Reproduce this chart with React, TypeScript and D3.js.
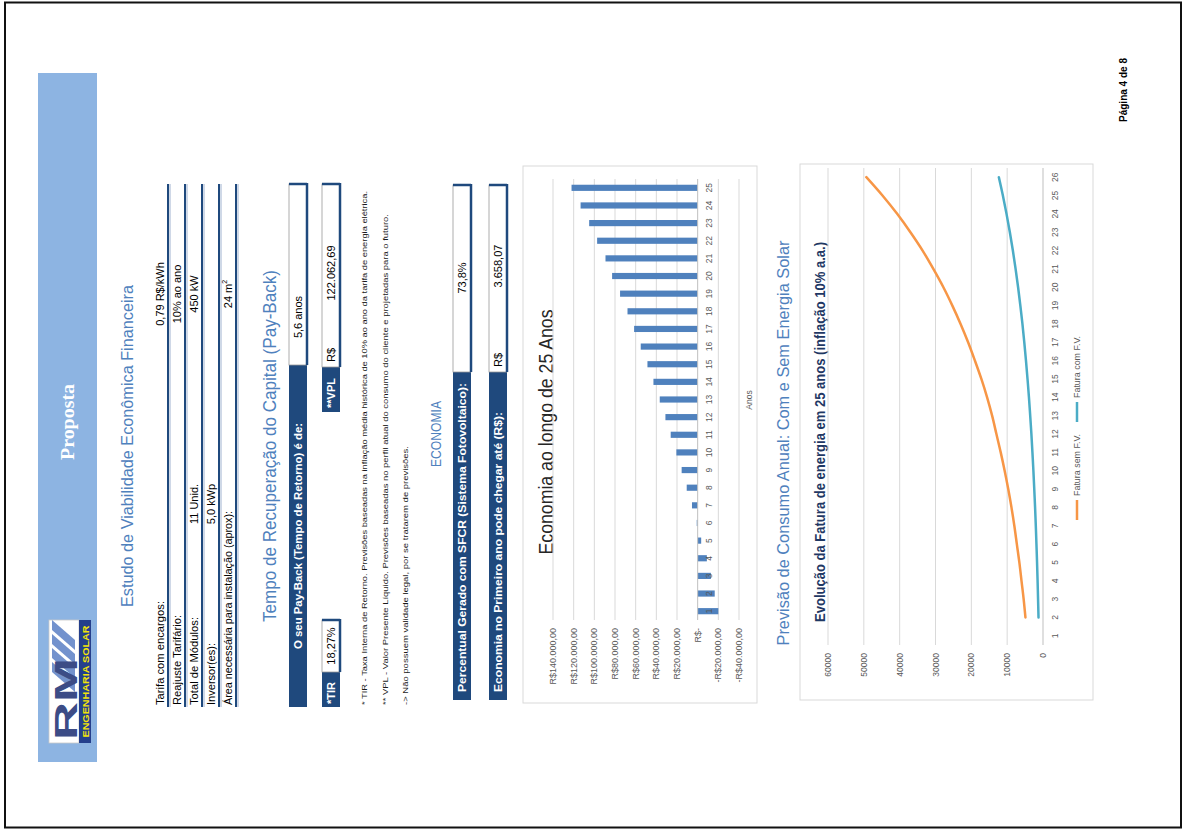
import React from 'react';
import * as d3 from 'd3';

const W = 1183;
const H = 832;

const SANS = "'Liberation Sans Narrow', 'Liberation Sans', Arial, sans-serif";
const SERIF = "'Liberation Serif', 'DejaVu Serif', serif";

const NAVY = '#1F497D';
const TITLE_BLUE = '#4F81BD';
const BAND = '#8DB4E2';
const AXIS_TXT = '#595959';
const GRID = '#d9d9d9';

// Dados do estudo financeiro
const tabelaRotulos = [
  'Tarifa com encargos:',
  'Reajuste Tarifário:',
  'Total de Módulos:',
  'Inversor(es):',
  'Área necessária para instalação (aprox):',
];
const tabelaRotuloLen = [104, 90, 88, 62, 194];
const tabelaQtd = ['', '', '11 Unid.', '5,0 kWp', ''];
const tabelaValor = ['0,79 R$/kWh', '10% ao ano', '450 kW', '', '24 m'];

const notas = [
  '* TIR - Taxa Interna de Retorno. Previsões baseadas na inflação média histórica de 10% ao ano da tarifa de energia elétrica.',
  '** VPL - Valor Presente Líquido. Previsões baseadas no perfil atual do consumo do cliente e projetadas para o futuro.',
  '-> Não possuem validade legal, por se tratarem de previsões.',
];
const notasLen = [514, 491, 259];

// Economia acumulada ao longo de 25 anos (R$)
const anos = [1, 2, 3, 4, 5, 6, 7, 8, 9, 10, 11, 12, 13, 14, 15, 16, 17, 18, 19, 20, 21, 22, 23, 24, 25];
const economiaAcumulada = [
  -20000, -16500, -12800, -8900, -3400, 900, 5500, 10600, 15500, 20600,
  26100, 31200, 36700, 42800, 48600, 55100, 61500, 67900, 75100, 82800,
  89200, 97300, 105000, 113300, 122062.69,
];
const economiaTicks = [-40000, -20000, 0, 20000, 40000, 60000, 80000, 100000, 120000, 140000];

// Fatura anual com e sem o sistema fotovoltaico
const faturaAnos = [1, 2, 3, 4, 5, 6, 7, 8, 9, 10, 11, 12, 13, 14, 15, 16, 17, 18, 19, 20, 21, 22, 23, 24, 25, 26];
const faturaSemFV: (number | null)[] = [
  null, 4900, 5400, 6000, 6600, 7300, 8000, 8800, 9700, 10700, 11800, 13000, 14200,
  15600, 17200, 19000, 20900, 23000, 25300, 27800, 30600, 33600, 37000, 40700, 44800, 49300,
];
const faturaComFV: (number | null)[] = [
  null, 1250, 1380, 1510, 1660, 1830, 2010, 2210, 2440, 2680, 2950, 3240, 3570,
  3920, 4320, 4750, 5220, 5740, 6320, 6950, 7650, 8410, 9250, 10180, 11200, 12320,
];
const faturaTicks = [0, 10000, 20000, 30000, 40000, 50000, 60000];

const locale = d3.formatLocale({ decimal: ',', thousands: '.', grouping: [3], currency: ['R$', ''] });
const num2 = locale.format(',.2f');
const brl = (v: number) => (v === 0 ? 'R$-' : (v < 0 ? '-' : '') + 'R$' + num2(Math.abs(v)));

type TP = {
  x: number; y: number; children: React.ReactNode; size?: number; len?: number;
  anchor?: 'start' | 'middle' | 'end'; fill?: string; weight?: string | number; family?: string;
};
const T = ({ x, y, children, size = 11, len, anchor = 'start', fill = '#000', weight = 'normal', family = SANS }: TP) => (
  <text
    x={x} y={y} fontSize={size} textAnchor={anchor} fill={fill} fontWeight={weight} fontFamily={family}
    textLength={len} lengthAdjust={len ? 'spacingAndGlyphs' : undefined}
  >
    {children}
  </text>
);

// caixa branca com sombra escura em baixo e à direita
const WhiteBox = ({ u0, u1, v0, v1 }: { u0: number; u1: number; v0: number; v1: number }) => (
  <g>
    <rect x={u0} y={v0} width={u1 - u0} height={v1 - v0} fill="#fff" stroke="#9a9a9a" strokeWidth={0.8} />
    <line x1={u0} x2={u1 + 1} y1={v1} y2={v1} stroke={NAVY} strokeWidth={2.5} />
    <line x1={u1} x2={u1} y1={v0} y2={v1} stroke={NAVY} strokeWidth={2.5} />
  </g>
);

function BarChart() {
  const bx = d3.scaleBand<number>().domain(anos).range([212, 653]).paddingInner(0.65).paddingOuter(0.325);
  const by = d3.scaleLinear().domain([-40000, 140000]).range([739, 553]);
  const zero = by(0);
  return (
    <g>
      <rect x={129} y={523} width={537} height={234} fill="#fff" stroke={GRID} strokeWidth={1} />
      <T x={400} y={553} size={20} len={245} anchor="middle" fill="#262626">Economia ao longo de 25 Anos</T>
      {economiaTicks.map((t) => (
        <g key={t}>
          {t !== 0 && <line x1={212} x2={653} y1={by(t)} y2={by(t)} stroke={GRID} strokeWidth={1} />}
          <T x={204} y={by(t) + 3} size={9} anchor="end" fill={AXIS_TXT}>{brl(t)}</T>
        </g>
      ))}
      {anos.map((a, i) => {
        const v = economiaAcumulada[i];
        return (
          <rect key={a} x={bx(a)!} width={bx.bandwidth()} y={Math.min(by(v), zero)} height={Math.abs(by(v) - zero)} fill="#4F81BD" />
        );
      })}
      <line x1={212} x2={653} y1={zero} y2={zero} stroke="#bfbfbf" strokeWidth={1} />
      {anos.map((a) => (
        <T key={a} x={bx(a)! + bx.bandwidth() / 2} y={712} size={8.5} anchor="middle" fill={AXIS_TXT}>{a}</T>
      ))}
      <T x={432} y={752} size={8.5} anchor="middle" fill={AXIS_TXT}>Anos</T>
    </g>
  );
}

function LineChart() {
  const lx = d3.scalePoint<number>().domain(faturaAnos).range([187, 664]).padding(0.5);
  const ly = d3.scaleLinear().domain([0, 60000]).range([1043, 828]);
  const mk = (serie: (number | null)[]) =>
    d3.line<number | null>()
      .defined((d) => d != null)
      .x((_, i) => lx(faturaAnos[i])!)
      .y((d) => ly(d as number))
      .curve(d3.curveCatmullRom)(serie) || '';
  return (
    <g>
      <rect x={132} y={800} width={536} height={293} fill="#fff" stroke={GRID} strokeWidth={1} />
      <T x={400} y={825} size={14} len={380} anchor="middle" fill="#1F3864" weight="bold">
        Evolução da Fatura de energia em 25 anos (inflação 10% a.a.)
      </T>
      {faturaTicks.map((t) => (
        <g key={t}>
          <line x1={187} x2={664} y1={ly(t)} y2={ly(t)} stroke={t === 0 ? '#bfbfbf' : GRID} strokeWidth={1} />
          <T x={179} y={ly(t) + 3} size={8.5} anchor="end" fill={AXIS_TXT}>{t}</T>
        </g>
      ))}
      {faturaAnos.map((a) => (
        <T key={a} x={lx(a)!} y={1058} size={8.5} anchor="middle" fill={AXIS_TXT}>{a}</T>
      ))}
      <path d={mk(faturaSemFV)} fill="none" stroke="#F79646" strokeWidth={2.5} strokeLinecap="round" />
      <path d={mk(faturaComFV)} fill="none" stroke="#4BACC6" strokeWidth={2.5} strokeLinecap="round" />
      <line x1={312} x2={332} y1={1077} y2={1077} stroke="#F79646" strokeWidth={2.5} />
      <T x={336} y={1080} size={8.5} len={62} fill={AXIS_TXT}>Fatura sem F.V.</T>
      <line x1={410} x2={430} y1={1077} y2={1077} stroke="#4BACC6" strokeWidth={2.5} />
      <T x={434} y={1080} size={8.5} len={62} fill={AXIS_TXT}>Fatura com F.V.</T>
    </g>
  );
}

function Logo() {
  return (
    <g>
      <rect x={89} y={49} width={123} height={30} fill="#fff" stroke="#c8c8c8" strokeWidth={0.8} />
      <rect x={89} y={79} width={123} height={12} fill="#243F8C" />
      <T x={150.5} y={88.5} size={9.5} len={112} anchor="middle" fill="#F2E40A" weight="bold">ENGENHARIA SOLAR</T>
      {[0, 1, 2, 3].map((k) => (
        <polygon
          key={k}
          points={`${140 + k * 14},75 ${160 + k * 14},52 ${170 + k * 14},52 ${150 + k * 14},75`}
          fill="#5B7FC4"
          opacity={0.85}
        />
      ))}
      <T x={92} y={77} size={32} len={82} fill="#3C4C86" weight="bold">RM</T>
    </g>
  );
}

export default function App() {
  return (
    <svg width={W} height={H} style={{ position: 'absolute', left: 0, top: 0 }}>
      <rect width={W} height={H} fill="#fff" />
      <rect x={5} y={2.5} width={1176} height={825} fill="none" stroke="#111" strokeWidth={2} />
      <g transform={`translate(0,${H}) rotate(-90)`}>
        {/* faixa lateral com o logotipo */}
        <rect x={70} y={38} width={689} height={59} fill={BAND} />
        <T x={410} y={74} size={19} len={76} anchor="middle" fill="#fff" weight="bold" family={SERIF}>Proposta</T>
        <Logo />

        {/* Estudo de viabilidade */}
        <T x={386} y={133} size={16} len={322} anchor="middle" fill={TITLE_BLUE}>Estudo de Viabilidade Econômica Financeira</T>
        {tabelaRotulos.map((r, i) => {
          const lineV = 168 + 17 * i;
          return (
            <g key={r}>
              <line x1={125} x2={648} y1={lineV} y2={lineV} stroke={NAVY} strokeWidth={2} />
              <line x1={125} x2={648} y1={lineV + 2} y2={lineV + 2} stroke="#9fb2cf" strokeWidth={1} />
              <T x={127} y={lineV - 4} size={11} len={tabelaRotuloLen[i]}>{r}</T>
              {tabelaQtd[i] && <T x={328} y={lineV - 4} size={11} anchor="middle">{tabelaQtd[i]}</T>}
              {tabelaValor[i] && (
                <text x={538} y={lineV - 4} fontSize={11} textAnchor="middle" fontFamily={SANS}>
                  {tabelaValor[i]}
                  {i === 4 && <tspan dy={-5} fontSize={7}>2</tspan>}
                </text>
              )}
            </g>
          );
        })}

        {/* Pay-back */}
        <T x={386} y={276} size={18} len={352} anchor="middle" fill={TITLE_BLUE}>Tempo de Recuperação do Capital (Pay-Back)</T>
        <rect x={125} y={289} width={342} height={18} fill={NAVY} />
        <T x={296} y={302} size={11.5} len={226} anchor="middle" fill="#fff" weight="bold">O seu Pay-Back (Tempo de Retorno) é de:</T>
        <WhiteBox u0={467} u1={648} v0={289} v1={307} />
        <T x={515} y={302} size={11} anchor="middle">5,6 anos</T>

        <rect x={125} y={322} width={35} height={18} fill={NAVY} />
        <T x={128} y={335} size={11} fill="#fff" weight="bold">*TIR</T>
        <WhiteBox u0={160} u1={212} v0={322} v1={340} />
        <T x={186} y={335} size={11} anchor="middle">18,27%</T>
        <rect x={420} y={322} width={45} height={18} fill={NAVY} />
        <T x={424} y={335} size={11} fill="#fff" weight="bold">**VPL</T>
        <WhiteBox u0={465} u1={648} v0={322} v1={340} />
        <T x={470} y={335} size={11}>R$</T>
        <T x={559} y={335} size={11} anchor="middle">122.062,69</T>

        {notas.map((n, i) => (
          <T key={i} x={127} y={367 + i * 20.5} size={8} len={notasLen[i]} fill="#1a1a1a">{n}</T>
        ))}

        {/* Economia */}
        <T x={398} y={441} size={15} len={66} anchor="middle" fill={TITLE_BLUE}>ECONOMIA</T>
        <rect x={132} y={453} width={328} height={18} fill={NAVY} />
        <T x={140} y={466} size={11} len={309} fill="#fff" weight="bold">Percentual Gerado com SFCR (Sistema Fotovoltaico):</T>
        <WhiteBox u0={460} u1={647} v0={453} v1={471} />
        <T x={554} y={466} size={11} anchor="middle">73,8%</T>
        <rect x={132} y={489} width={328} height={18} fill={NAVY} />
        <T x={140} y={502} size={11} len={280} fill="#fff" weight="bold">Economia no Primeiro ano pode chegar até (R$):</T>
        <WhiteBox u0={460} u1={647} v0={489} v1={507} />
        <T x={465} y={502} size={11}>R$</T>
        <T x={566} y={502} size={11} anchor="middle">3.658,07</T>

        <BarChart />

        <T x={389} y={789} size={16.5} len={405} anchor="middle" fill={TITLE_BLUE}>Previsão de Consumo Anual: Com e Sem Energia Solar</T>
        <LineChart />

        <T x={774} y={1127} size={10} len={64} anchor="end" weight="bold">Página 4 de 8</T>
      </g>
    </svg>
  );
}
